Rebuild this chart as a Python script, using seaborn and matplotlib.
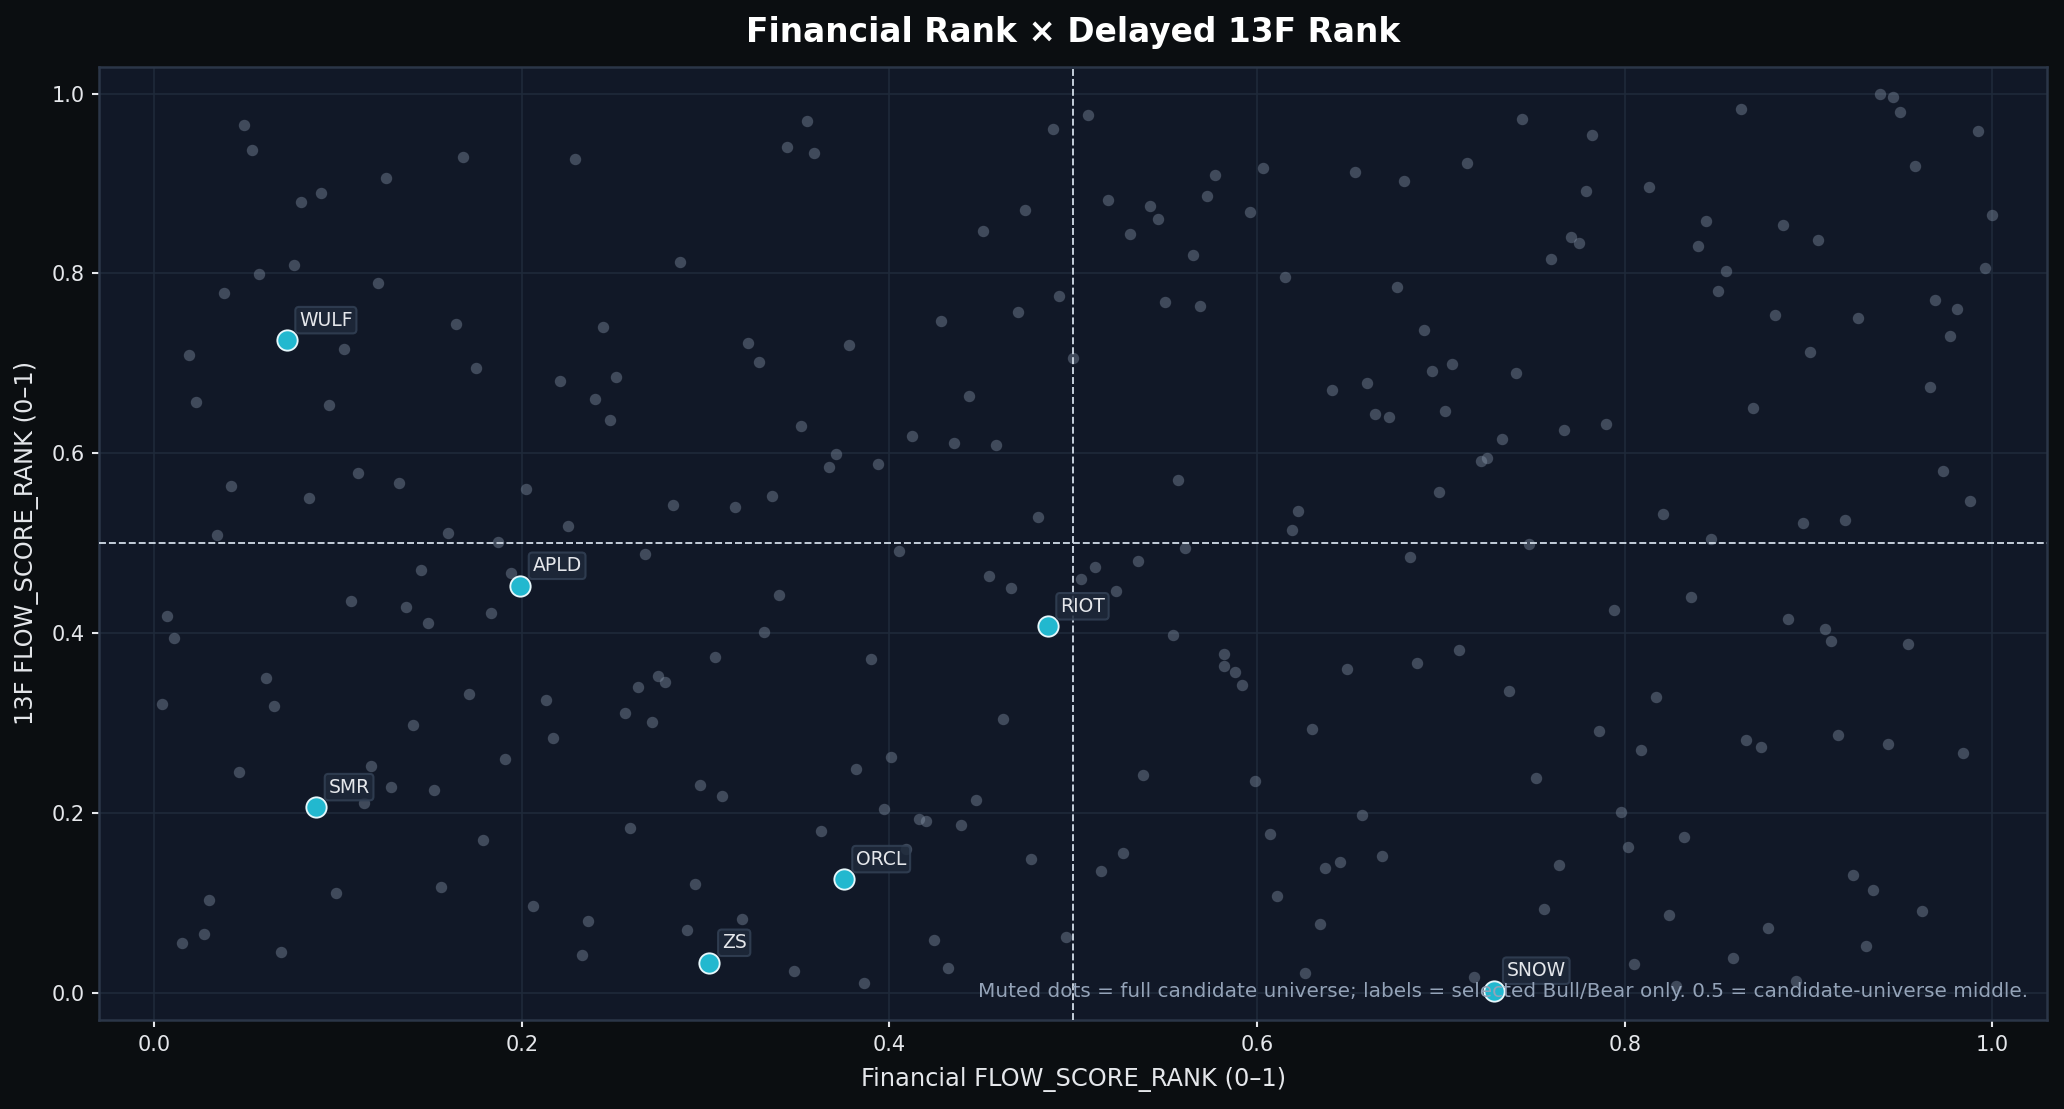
import numpy as np
import pandas as pd
import matplotlib
matplotlib.use("Agg")
import matplotlib.pyplot as plt
import seaborn as sns

# Full candidate universe (muted dots)
universe_x = [
    0.049, 0.053, 0.168, 0.229, 0.126, 0.091, 0.080, 0.286, 0.076, 0.057, 0.122, 0.038,
    0.164, 0.244, 0.323, 0.103, 0.019, 0.175, 0.221, 0.251, 0.240, 0.248, 0.023, 0.095,
    0.042, 0.111, 0.133, 0.084, 0.202, 0.282, 0.316, 0.160, 0.225, 0.034, 0.187, 0.267,
    0.355, 0.344, 0.359, 0.508, 0.489, 0.577, 0.603, 0.653, 0.519, 0.542, 0.546, 0.573,
    0.596, 0.531, 0.474, 0.451, 0.565, 0.615, 0.492, 0.470, 0.428, 0.550, 0.569, 0.378,
    0.329, 0.500, 0.443, 0.352, 0.412, 0.435, 0.458, 0.371, 0.367, 0.394, 0.641, 0.660,
    0.664, 0.672, 0.557, 0.336, 0.481, 0.622, 0.619,
    0.744, 0.782, 0.714, 0.680, 0.779, 0.863, 0.939, 0.946, 0.950, 0.992, 0.958, 0.813,
    0.844, 0.886, 0.905, 0.840, 0.771, 0.775, 0.760, 1.000, 0.996, 0.855, 0.851, 0.676,
    0.691, 0.882, 0.927, 0.969, 0.981, 0.977, 0.901, 0.706, 0.695, 0.741, 0.966, 0.870,
    0.702, 0.733, 0.767, 0.790, 0.722, 0.725, 0.699, 0.821, 0.973, 0.988, 0.897, 0.920,
    0.847, 0.748,
    0.145, 0.194, 0.107, 0.137, 0.183, 0.149, 0.007, 0.011, 0.305, 0.274, 0.278, 0.263,
    0.256, 0.271, 0.061, 0.004, 0.065, 0.171, 0.213, 0.141, 0.217, 0.191, 0.118, 0.046,
    0.129, 0.152, 0.114, 0.297, 0.309, 0.259, 0.179, 0.156, 0.099, 0.030, 0.294, 0.206,
    0.236, 0.290, 0.320, 0.027, 0.015, 0.069, 0.233,
    0.405, 0.561, 0.454, 0.466, 0.512, 0.535, 0.504, 0.523, 0.340, 0.332, 0.554, 0.582,
    0.582, 0.588, 0.592, 0.649, 0.390, 0.462, 0.630, 0.401, 0.382, 0.538, 0.599, 0.447,
    0.397, 0.416, 0.420, 0.439, 0.363, 0.657, 0.607, 0.409, 0.477, 0.527, 0.515, 0.668,
    0.637, 0.645, 0.611, 0.634, 0.424, 0.496, 0.348, 0.432, 0.386, 0.626,
    0.683, 0.794, 0.836, 0.889, 0.909, 0.912, 0.954, 0.710, 0.687, 0.737, 0.817, 0.786,
    0.809, 0.866, 0.874, 0.916, 0.943, 0.984, 0.752, 0.798, 0.832, 0.802, 0.764, 0.924,
    0.935, 0.962, 0.756, 0.824, 0.878, 0.931, 0.859, 0.805, 0.718, 0.828, 0.893,
]
universe_y = [
    0.965, 0.937, 0.930, 0.927, 0.906, 0.889, 0.879, 0.813, 0.809, 0.799, 0.789, 0.778,
    0.744, 0.740, 0.723, 0.716, 0.709, 0.695, 0.681, 0.685, 0.661, 0.637, 0.657, 0.654,
    0.564, 0.578, 0.567, 0.550, 0.560, 0.543, 0.540, 0.512, 0.519, 0.509, 0.502, 0.488,
    0.969, 0.941, 0.934, 0.976, 0.961, 0.910, 0.917, 0.913, 0.882, 0.875, 0.861, 0.886,
    0.868, 0.844, 0.871, 0.847, 0.820, 0.796, 0.775, 0.757, 0.747, 0.768, 0.764, 0.720,
    0.702, 0.706, 0.664, 0.630, 0.619, 0.612, 0.609, 0.599, 0.585, 0.588, 0.671, 0.678,
    0.644, 0.640, 0.571, 0.553, 0.529, 0.536, 0.515,
    0.972, 0.954, 0.923, 0.903, 0.892, 0.983, 1.000, 0.996, 0.979, 0.958, 0.920, 0.896,
    0.858, 0.854, 0.837, 0.830, 0.840, 0.834, 0.816, 0.865, 0.806, 0.803, 0.781, 0.785,
    0.737, 0.754, 0.751, 0.771, 0.761, 0.730, 0.713, 0.699, 0.692, 0.689, 0.674, 0.650,
    0.647, 0.616, 0.626, 0.633, 0.592, 0.595, 0.557, 0.533, 0.581, 0.547, 0.523, 0.526,
    0.505, 0.499,
    0.471, 0.467, 0.436, 0.429, 0.423, 0.412, 0.419, 0.395, 0.374, 0.353, 0.346, 0.340,
    0.312, 0.301, 0.350, 0.322, 0.319, 0.333, 0.326, 0.298, 0.284, 0.260, 0.253, 0.246,
    0.229, 0.226, 0.212, 0.232, 0.219, 0.184, 0.170, 0.118, 0.111, 0.104, 0.122, 0.097,
    0.080, 0.070, 0.083, 0.066, 0.056, 0.046, 0.042,
    0.492, 0.495, 0.464, 0.450, 0.474, 0.481, 0.460, 0.447, 0.443, 0.402, 0.398, 0.377,
    0.364, 0.357, 0.343, 0.360, 0.371, 0.305, 0.294, 0.263, 0.249, 0.243, 0.236, 0.215,
    0.205, 0.194, 0.191, 0.187, 0.180, 0.198, 0.177, 0.160, 0.149, 0.156, 0.136, 0.153,
    0.139, 0.146, 0.108, 0.077, 0.059, 0.063, 0.025, 0.028, 0.011, 0.022,
    0.485, 0.426, 0.440, 0.416, 0.405, 0.392, 0.388, 0.381, 0.367, 0.336, 0.329, 0.291,
    0.270, 0.281, 0.274, 0.287, 0.277, 0.267, 0.239, 0.201, 0.174, 0.163, 0.143, 0.132,
    0.115, 0.091, 0.094, 0.087, 0.073, 0.053, 0.039, 0.032, 0.018, 0.008, 0.014,
]

# Selected Bull/Bear names
tickers = ["WULF", "APLD", "SMR", "ZS", "ORCL", "RIOT", "SNOW"]
sel_x = [0.072, 0.199, 0.088, 0.302, 0.375, 0.486, 0.729]
sel_y = [0.726, 0.453, 0.207, 0.034, 0.127, 0.408, 0.003]

universe = pd.DataFrame({"fin": universe_x, "f13": universe_y})
selected = pd.DataFrame({"ticker": tickers, "fin": sel_x, "f13": sel_y})

# Colours
FIG_BG = "#0b0e11"
AX_BG = "#111827"
TEXT = "#e5e7eb"

sns.set_style("dark", rc={
    "axes.facecolor": AX_BG,
    "figure.facecolor": FIG_BG,
    "axes.edgecolor": "#2b3648",
    "grid.color": "#1f2a3a",
    "xtick.color": TEXT,
    "ytick.color": TEXT,
    "axes.labelcolor": TEXT,
    "text.color": TEXT,
})
plt.rcParams["font.family"] = ["DejaVu Sans"]

fig, ax = plt.subplots(figsize=(2064 / 150, 1109 / 150), dpi=150)
fig.subplots_adjust(left=0.048, right=0.992, bottom=0.080, top=0.940)

ax.grid(True, color="#1f2a3a", linewidth=0.8)
ax.set_axisbelow(True)
ax.tick_params(axis="both", which="major", length=3.5, width=1, color=TEXT,
               labelsize=10, bottom=True, left=True)
for sp in ax.spines.values():
    sp.set_color("#2b3648")
    sp.set_linewidth(1.2)

# Muted universe
sns.scatterplot(data=universe, x="fin", y="f13", ax=ax, color="#94a3b8",
                alpha=0.36, s=30, linewidth=0, zorder=2)

# Midlines
ax.axvline(0.5, color="#cbd5e1", linestyle="--", linewidth=0.9, zorder=3)
ax.axhline(0.5, color="#cbd5e1", linestyle="--", linewidth=0.9, zorder=3)

# Selected names
sns.scatterplot(data=selected, x="fin", y="f13", ax=ax, color="#22b8cf",
                s=95, edgecolor="#e6f7fb", linewidth=0.9, zorder=5)
for _, r in selected.iterrows():
    ax.annotate(r["ticker"], (r["fin"], r["f13"]), xytext=(6, 5),
                textcoords="offset points", ha="left", va="bottom",
                fontsize=9, color=TEXT, zorder=6,
                bbox=dict(boxstyle="round,pad=0.2", facecolor="#1e293b",
                          edgecolor="#334155", alpha=0.85, linewidth=1))

ax.text(0.99, 0.02,
        "Muted dots = full candidate universe; labels = selected Bull/Bear only. "
        "0.5 = candidate-universe middle.",
        transform=ax.transAxes, ha="right", va="bottom", fontsize=9.6,
        color="#94a3b8", zorder=7)

ax.set_xlim(-0.03, 1.03)
ax.set_ylim(-0.03, 1.03)
ax.set_xticks([0.0, 0.2, 0.4, 0.6, 0.8, 1.0])
ax.set_yticks([0.0, 0.2, 0.4, 0.6, 0.8, 1.0])
ax.set_xlabel("Financial FLOW_SCORE_RANK (0–1)", fontsize=11.6, labelpad=6)
ax.set_ylabel("13F FLOW_SCORE_RANK (0–1)", fontsize=11.6, labelpad=6)
ax.set_title("Financial Rank × Delayed 13F Rank", fontsize=15.8, fontweight="bold",
             color="white", pad=12)

fig.savefig("out.png", dpi=150, facecolor=FIG_BG)
